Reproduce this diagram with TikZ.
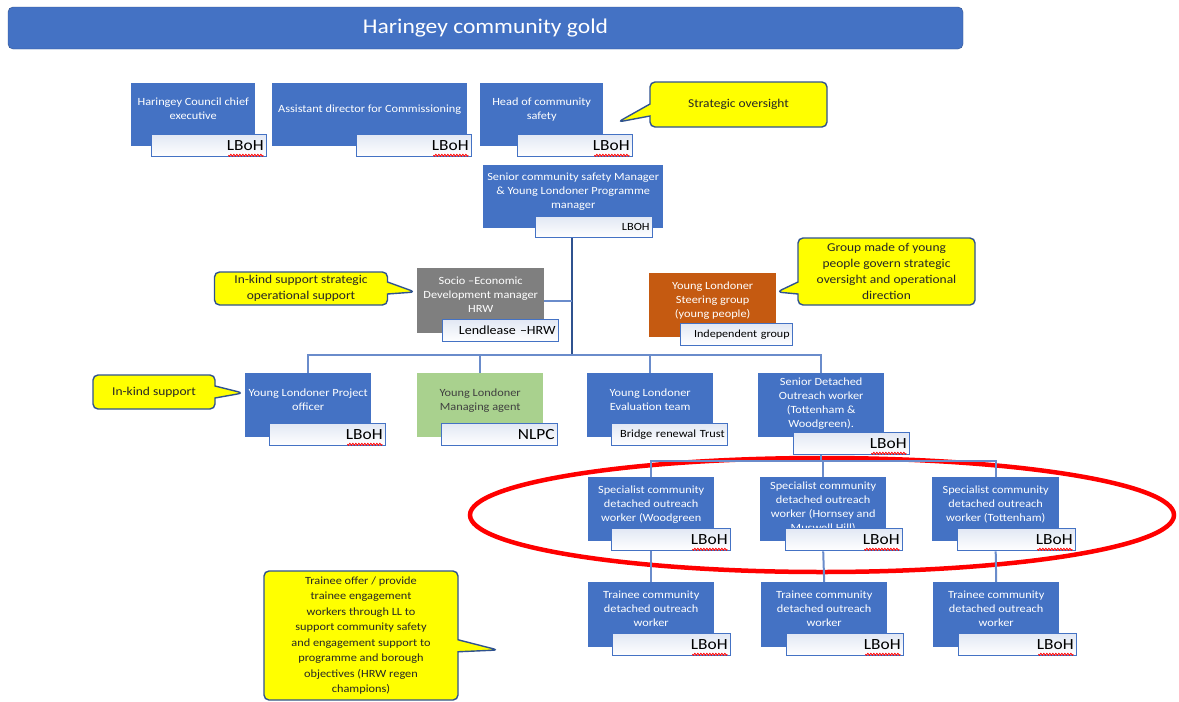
\documentclass[tikz,border=0pt]{standalone}
\usepackage{fontspec}
\setmainfont{Carlito}[FakeStretch=1.12]
\usetikzlibrary{shapes.callouts,decorations.pathmorphing}
\definecolor{boxblue}{HTML}{4472C4}
\definecolor{edgeblue}{HTML}{2F528F}
\definecolor{linkblue}{HTML}{6A8CCB}
\definecolor{lblfill}{HTML}{E2E8F4}
\definecolor{socgray}{HTML}{7F7F7F}
\definecolor{steerorange}{HTML}{C55A11}
\definecolor{agentgreen}{HTML}{A9D18E}
\definecolor{noteyellow}{HTML}{FFFF00}
\tikzset{
  role/.style={fill=boxblue, text=white, align=center, anchor=north west, inner sep=2pt, text depth=12pt, font=\fontsize{11}{14}\selectfont},
  tag/.style={draw=boxblue, line width=1.3pt, top color=lblfill, bottom color=white, anchor=north west, minimum height=22pt, inner sep=3pt, align=right, font=\fontsize{15.5}{15.5}\selectfont},
  note/.style={rectangle callout, fill=noteyellow, draw=edgeblue, line width=1.4pt, rounded corners=5pt, align=center, inner sep=2pt, callout pointer width=12pt, text=black!85, font=\fontsize{12}{16}\selectfont},
  link/.style={draw=linkblue, line width=2pt},
  squig/.style={draw=red, line width=0.8pt, decorate, decoration={snake, amplitude=1pt, segment length=3pt}},
}
\begin{document}
\begin{tikzpicture}[x=1pt, y=-1pt]
\useasboundingbox (0,0) rectangle (1179,702);
% title bar
\node[fill=boxblue, draw=edgeblue, rounded corners=5pt, minimum width=955pt, minimum height=42pt, text=white, font=\fontsize{21}{23}\selectfont] (title) at (485.5,28) {Haringey community gold};
% ring round the specialist workers
\draw[red, line width=4.5pt] (822,515) ellipse [x radius=352pt, y radius=57pt];
% top row
\node[role, minimum width=124pt, minimum height=63pt] (ceo) at (131,83) {Haringey Council chief\\executive};
\node[tag, text width=109pt] (ceol) at (151,134) {LBoH};
\node[role, minimum width=195pt, minimum height=63pt] (asd) at (272,83) {Assistant director for Commissioning};
\node[tag, text width=109pt] (asdl) at (356,134) {LBoH};
\node[role, minimum width=123pt, minimum height=63pt] (head) at (480,83) {Head of community\\safety};
\node[tag, text width=109pt] (headl) at (517,134) {LBoH};
\node[note, minimum width=177pt, minimum height=45pt, callout absolute pointer={(618,122)}] (strat) at (738.5,104.5) {Strategic oversight};
% programme manager
\node[role, minimum width=180pt, minimum height=63pt] (sen) at (483,165) {Senior community safety Manager\\\& Young Londoner Programme\\manager};
\node[tag, text width=111pt, minimum height=21pt, font=\fontsize{11}{12}\selectfont] (senl) at (535,216) {LBOH};
% support partners
\node[role, fill=socgray, minimum width=127pt, minimum height=65pt] (soc) at (417,268) {Socio –Economic\\Development manager\\HRW};
\node[tag, text width=110pt, font=\fontsize{12.5}{14}\selectfont] (socl) at (442,319) {Lendlease –HRW};
\node[note, minimum width=173pt, minimum height=33pt, callout absolute pointer={(415,292)}] (kind1) at (301,288.5) {In-kind support strategic\\operational support};
\node[role, fill=steerorange, minimum width=127pt, minimum height=64pt] (steer) at (649,273) {Young Londoner\\Steering group\\(young people)};
\node[tag, text width=106pt, font=\fontsize{10.8}{13}\selectfont] (steerl) at (680,323) {Independent group};
\node[note, minimum width=177pt, minimum height=67pt, callout absolute pointer={(777,292)}] (grp) at (886.5,271.5) {Group made of young\\people govern strategic\\oversight and operational\\direction};
% middle row
\node[role, minimum width=126pt, minimum height=64pt] (proj) at (245,373) {Young Londoner Project\\officer};
\node[tag, text width=110pt] (projl) at (269,423) {LBoH};
\node[note, minimum width=122pt, minimum height=34pt, callout absolute pointer={(243,393)}] (kind2) at (154,392) {In-kind support};
\node[role, fill=agentgreen, text=black!75, minimum width=126pt, minimum height=64pt] (agent) at (417,373) {Young Londoner\\Managing agent};
\node[tag, text width=110pt] (agentl) at (441,423) {NLPC};
\node[role, minimum width=126pt, minimum height=64pt] (eval) at (587,373) {Young Londoner\\Evaluation team};
\node[tag, text width=110pt, font=\fontsize{11}{13}\selectfont] (evall) at (611,423) {Bridge renewal Trust};
\node[role, text depth=5pt, minimum width=126pt, minimum height=64pt] (sdow) at (758,373) {Senior Detached\\Outreach worker\\(Tottenham \&\\Woodgreen).};
\node[tag, text width=110pt] (sdowl) at (793,432) {LBoH};
% specialist workers
\node[role, minimum width=126pt, minimum height=64pt] (spw) at (588,477) {Specialist community\\detached outreach\\worker (Woodgreen};
\node[role, text depth=5pt, minimum width=126pt, minimum height=64pt] (sph) at (760,477) {Specialist community\\detached outreach\\worker (Hornsey and\\Muswell Hill)};
\node[role, minimum width=127pt, minimum height=64pt] (spt) at (932,477) {Specialist community\\detached outreach\\worker (Tottenham)};
\node[tag, text width=113pt] (spwl) at (611,528) {LBoH};
\node[tag, text width=111pt] (sphl) at (785,528) {LBoH};
\node[tag, text width=112pt] (sptl) at (957,528) {LBoH};
% trainee workers
\node[role, minimum width=126pt, minimum height=65pt] (trw) at (588,582) {Trainee community\\detached outreach\\worker};
\node[role, minimum width=126pt, minimum height=65pt] (trh) at (761,582) {Trainee community\\detached outreach\\worker};
\node[role, minimum width=126pt, minimum height=65pt] (trt) at (933,582) {Trainee community\\detached outreach\\worker};
\node[tag, text width=112pt] (trwl) at (612,633) {LBoH};
\node[tag, text width=111pt] (trhl) at (786,633) {LBoH};
\node[tag, text width=112pt] (trtl) at (958,633) {LBoH};
\node[note, minimum width=194pt, minimum height=129pt, font=\fontsize{11}{15.5}\selectfont, callout absolute pointer={(498,650)}] (trainee) at (361,635.5) {Trainee offer / provide\\trainee engagement\\workers through LL to\\support community safety\\and engagement support to\\programme and borough\\objectives (HRW regen\\champions)};
% connectors
\coordinate (hub) at (572,355);
\coordinate (hub2) at (821,461);
\draw[link, draw=edgeblue, line width=2.5pt] (hub |- senl.south) -- (hub);
\draw[link] (soc.east) -- (soc.east -| hub);
\draw[link] (proj.north) |- (hub) -| (sdow.north);
\draw[link] (agent.north) -- (agent.north |- hub);
\draw[link] (eval.north) -- (eval.north |- hub);
\draw[link] (sdowl.south -| hub2) -- (hub2);
\draw[link] (spw.north) |- (hub2) -| (spt.north);
\draw[link] (sph.north) -- (sph.north |- hub2);
\draw[link] (spwl.south -| spw.south) -- (trw.north);
\draw[link] (sphl.south -| sph.south) -- (trh.north);
\draw[link] (sptl.south -| spt.south) -- (trt.north);
% spelling marks
\draw[squig] ([shift={(-4,-2)}]ceol.south east) -- ++(-35,0);
\draw[squig] ([shift={(-4,-2)}]asdl.south east) -- ++(-35,0);
\draw[squig] ([shift={(-4,-2)}]headl.south east) -- ++(-35,0);
\draw[squig] ([shift={(-4,-2)}]projl.south east) -- ++(-35,0);
\draw[squig] ([shift={(-4,-2)}]sdowl.south east) -- ++(-35,0);
\draw[squig] ([shift={(-4,-2)}]spwl.south east) -- ++(-35,0);
\draw[squig] ([shift={(-4,-2)}]sphl.south east) -- ++(-35,0);
\draw[squig] ([shift={(-4,-2)}]sptl.south east) -- ++(-35,0);
\draw[squig] ([shift={(-4,-2)}]trwl.south east) -- ++(-35,0);
\draw[squig] ([shift={(-4,-2)}]trhl.south east) -- ++(-35,0);
\draw[squig] ([shift={(-4,-2)}]trtl.south east) -- ++(-35,0);
\end{tikzpicture}
\end{document}
